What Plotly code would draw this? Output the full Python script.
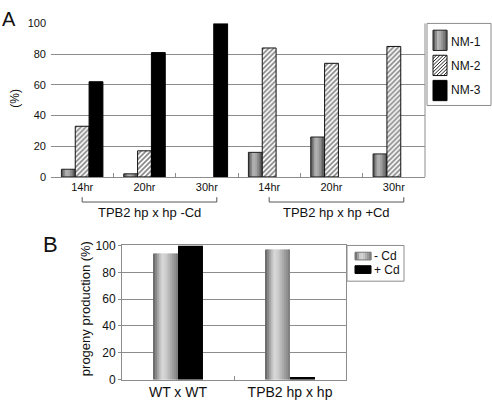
import plotly.graph_objects as go

# ---------------- data ----------------
a_time_labels = ["14hr", "20hr", "30hr", "14hr", "20hr", "30hr"]
a_group_labels = ["TPB2 hp x hp -Cd", "TPB2 hp x hp +Cd"]
a_series_names = ["NM-1", "NM-2", "NM-3"]
nm1 = [5, 2, 0, 16, 26, 15]
nm2 = [33, 17, 0, 84, 74, 85]
nm3 = [62, 81, 100, 0, 0, 0]

b_categories = ["WT x WT", "TPB2 hp x hp"]
b_series_names = ["- Cd", "+ Cd"]
b_minus_cd = [94, 97]
b_plus_cd = [100, 2]

y_ticks = [0, 20, 40, 60, 80, 100]

W, H = 492, 405
FONT = "Liberation Sans, Arial, sans-serif"
GRID = "#8c8c8c"


def px_x(p):
    return p / W


def px_y(p):
    return 1 - p / H


def hex2rgb(h):
    h = h.lstrip("#")
    return tuple(int(h[i:i + 2], 16) for i in (0, 2, 4))


def grad_color(stops, t):
    for (t0, c0), (t1, c1) in zip(stops, stops[1:]):
        if t0 <= t <= t1:
            f = (t - t0) / (t1 - t0) if t1 > t0 else 0
            a, b = hex2rgb(c0), hex2rgb(c1)
            r = [round(a[k] + (b[k] - a[k]) * f) for k in range(3)]
            return "rgb(%d,%d,%d)" % tuple(r)
    return stops[-1][1]


def line_w(vals, w):
    return [w if v > 0 else 0 for v in vals]


def gradient_bars(fig, x, y, offset, width, stops, n, xa, ya):
    step = width / n
    for i in range(n):
        w = step * 1.6 if i < n - 1 else step
        fig.add_trace(go.Bar(
            x=x, y=y, offset=offset + i * step, width=w,
            marker=dict(color=grad_color(stops, (i + 0.5) / n), line=dict(width=0)),
            showlegend=False, hoverinfo="skip", xaxis=xa, yaxis=ya))


fig = go.Figure()

# ---------------- panel A ----------------
xa_pos = list(range(len(a_time_labels)))
bw = 0.222
nm1_stops = [(0, "#474747"), (0.35, "#b8b8b8"), (0.55, "#a5a5a5"), (1, "#555555")]

gradient_bars(fig, xa_pos, nm1, -1.5 * bw, bw, nm1_stops, 8, "x", "y")
fig.add_trace(go.Bar(x=xa_pos, y=nm1, offset=-1.5 * bw, width=bw,
                     marker=dict(color="rgba(0,0,0,0)",
                                 line=dict(color="#222", width=line_w(nm1, 1))),
                     showlegend=False, hoverinfo="skip", xaxis="x", yaxis="y"))
fig.add_trace(go.Bar(x=xa_pos, y=nm2, offset=-0.5 * bw, width=bw, name="NM-2",
                     marker=dict(color="white", line=dict(color="#111", width=line_w(nm2, 1)),
                                 pattern=dict(shape="/", fgcolor="#111", bgcolor="white",
                                              size=3.5, solidity=0.5)),
                     showlegend=False, xaxis="x", yaxis="y"))
fig.add_trace(go.Bar(x=xa_pos, y=nm3, offset=0.5 * bw, width=bw, name="NM-3",
                     marker=dict(color="black", line=dict(color="black", width=line_w(nm3, 1))),
                     showlegend=False, xaxis="x", yaxis="y"))

# ---------------- panel B ----------------
xb_pos = list(range(len(b_categories)))
bwb = 0.223
minus_stops = [(0, "#5e5e5e"), (0.35, "#d8d8d8"), (0.5, "#d0d0d0"), (1, "#7a7a7a")]
gradient_bars(fig, xb_pos, b_minus_cd, -bwb, bwb, minus_stops, 12, "x2", "y2")
fig.add_trace(go.Bar(x=xb_pos, y=b_plus_cd, offset=0, width=bwb, name="+ Cd",
                     marker=dict(color="black", line=dict(width=0)),
                     showlegend=False, xaxis="x2", yaxis="y2"))

fig.update_layout(
    width=W, height=H, autosize=False,
    margin=dict(l=0, r=0, t=0, b=0),
    paper_bgcolor="white", plot_bgcolor="white",
    barmode="overlay", showlegend=False,
    font=dict(family=FONT, color="#111", size=11),
    xaxis=dict(domain=[px_x(51), px_x(425)], anchor="y", range=[-0.5, 5.5],
               tickmode="array", tickvals=xa_pos, ticktext=a_time_labels, ticks="",
               minor=dict(tickmode="array", tickvals=[i + 0.5 for i in xa_pos[:-1]],
                          ticks="inside", ticklen=4, tickcolor=GRID, showgrid=False),
               showline=True, linecolor=GRID, linewidth=1, showgrid=False, zeroline=False,
               tickfont=dict(size=11)),
    yaxis=dict(domain=[px_y(176), px_y(17)], anchor="x", range=[0, 100],
               tickmode="array", tickvals=y_ticks, showgrid=True, gridcolor=GRID,
               gridwidth=1, showline=False, zeroline=False, ticks="",
               ticklabelstandoff=4, tickfont=dict(size=11)),
    xaxis2=dict(domain=[px_x(122), px_x(346)], anchor="y2", range=[-0.5, 1.5],
                tickmode="array", tickvals=xb_pos, ticktext=b_categories, ticks="",
                minor=dict(tickmode="array", tickvals=[0.5], ticks="inside", ticklen=4,
                           tickcolor=GRID, showgrid=False),
                showline=True, mirror=True, linecolor=GRID, linewidth=1,
                showgrid=False, zeroline=False, tickfont=dict(size=14)),
    yaxis2=dict(domain=[px_y(386), px_y(247)], anchor="x2", range=[0, 100],
                tickmode="array", tickvals=y_ticks, showgrid=True, gridcolor=GRID,
                showline=True, mirror=True, linecolor=GRID, zeroline=False,
                ticks="outside", ticklen=3, tickcolor=GRID, tickfont=dict(size=12)),
)

# right border of panel A
fig.add_shape(type="line", xref="x domain", yref="y domain", x0=1, x1=1, y0=0, y1=1,
              line=dict(color=GRID, width=1))


def prect(x0, y0, x1, y1, fill, line_color=None, lw=0):
    fig.add_shape(type="rect", xref="paper", yref="paper",
                  x0=px_x(x0), x1=px_x(x1), y0=px_y(y1), y1=px_y(y0),
                  fillcolor=fill, line=dict(color=line_color or fill, width=lw),
                  layer="above")


def pline(x0, y0, x1, y1, color, lw=1):
    fig.add_shape(type="line", xref="paper", yref="paper",
                  x0=px_x(x0), x1=px_x(x1), y0=px_y(y0), y1=px_y(y1),
                  line=dict(color=color, width=lw), layer="above")


def gradient_swatch(x0, y0, x1, y1, stops, n, outline):
    step = (x1 - x0) / n
    for i in range(n):
        prect(x0 + i * step, y0, x0 + (i + 1) * step + 0.3, y1,
              grad_color(stops, (i + 0.5) / n))
    if outline:
        prect(x0, y0, x1, y1, "rgba(0,0,0,0)", outline, 1)


def hatch_swatch(x0, y0, x1, y1, spacing):
    prect(x0, y0, x1, y1, "white")
    c = x0 + y0 + spacing
    while c < x1 + y1:
        sx0 = max(x0, c - y1)
        sx1 = min(x1, c - y0)
        if sx1 > sx0:
            pline(sx0, c - sx0, sx1, c - sx1, "#222", 1)
        c += spacing
    prect(x0, y0, x1, y1, "rgba(0,0,0,0)", "#111", 1)


# ---- legend A ----
prect(427, 17, 491, 102, "white", GRID, 1)
gradient_swatch(433, 24, 447, 45, nm1_stops, 7, "#222")
hatch_swatch(433, 50, 447, 71, 3.5)
prect(433, 76, 447, 97, "black", "black", 1)
for name, yc in zip(a_series_names, [36, 61, 86]):
    fig.add_annotation(x=px_x(449), y=px_y(yc), xref="paper", yref="paper", text=name,
                       showarrow=False, xanchor="left", yanchor="middle",
                       font=dict(size=12))

# ---- legend B ----
prect(347, 247, 404, 284, "white", GRID, 1)
gradient_swatch(355, 254, 371, 262, minus_stops, 8, "#777")
prect(355, 268, 371, 276, "black", "black", 1)
for name, yc in zip(b_series_names, [258, 272]):
    fig.add_annotation(x=px_x(372), y=px_y(yc), xref="paper", yref="paper", text=name,
                       showarrow=False, xanchor="left", yanchor="middle",
                       font=dict(size=12))

# group brackets for panel A
for g, (start, end) in enumerate([(0, 2), (3, 5)]):
    x0, x1 = start, end + 0.16
    for (sx0, sx1, sy0, sy1) in [(x0, x0, 197, 202), (x1, x1, 197, 202), (x0, x1, 202, 202)]:
        fig.add_shape(type="line", xref="x", yref="paper", x0=sx0, x1=sx1,
                      y0=px_y(sy0), y1=px_y(sy1), line=dict(color="#555", width=1))
    fig.add_annotation(x=(x0 + x1) / 2, xref="x", y=px_y(213), yref="paper",
                       text=a_group_labels[g], showarrow=False, xanchor="center",
                       yanchor="middle", font=dict(size=13))

# panel letters and axis titles
fig.add_annotation(x=0, y=px_y(12), xref="paper", yref="paper", text="A",
                   showarrow=False, xanchor="left", yanchor="middle", font=dict(size=20))
fig.add_annotation(x=px_x(41), y=px_y(246), xref="paper", yref="paper", text="B",
                   showarrow=False, xanchor="left", yanchor="middle", font=dict(size=22))
fig.add_annotation(x=px_x(15), y=px_y(95), xref="paper", yref="paper", text="(%)",
                   showarrow=False, textangle=-90, xanchor="center", yanchor="middle",
                   font=dict(size=12))
fig.add_annotation(x=px_x(85), y=px_y(313), xref="paper", yref="paper",
                   text="progeny production (%)", showarrow=False, textangle=-90,
                   xanchor="center", yanchor="middle", font=dict(size=13))

fig.write_html("out.html", config={"displayModeBar": False},
               post_script="document.body.style.margin='0';")
